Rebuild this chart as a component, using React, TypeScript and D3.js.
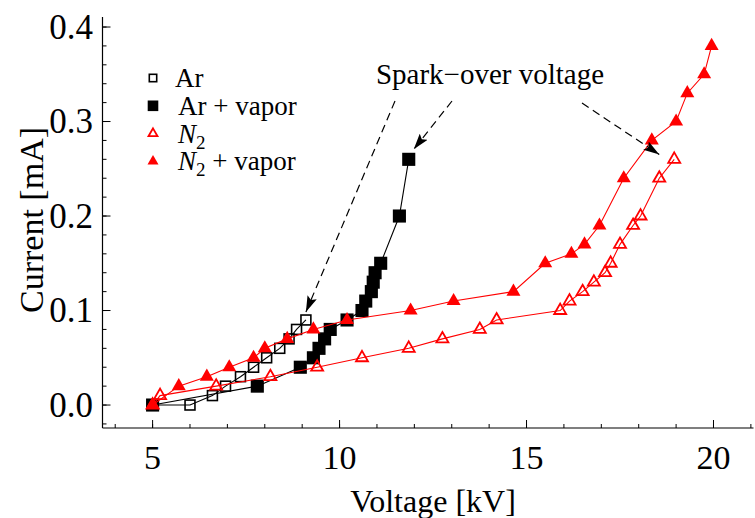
import React from 'react';
import * as d3 from 'd3';

// voltage [kV] / current [mA]
const arV = [5, 6, 6.6, 6.95, 7.35, 7.7, 8.05, 8.4, 8.65, 8.85, 9.1];
const arI = [0, 0, 0.01, 0.02, 0.03, 0.04, 0.05, 0.06, 0.07, 0.08, 0.09];

const arVaporV = [5, 7.8, 8.95, 9.3, 9.45, 9.6, 9.75, 10.2, 10.6, 10.7, 10.85, 10.9, 10.95, 11.1, 11.6, 11.85];
const arVaporI = [0, 0.02, 0.04, 0.05, 0.06, 0.07, 0.08, 0.09, 0.1, 0.11, 0.12, 0.13, 0.14, 0.15, 0.2, 0.26];

const n2V = [5, 5.2, 6.7, 8.15, 9.4, 10.6, 11.85, 12.75, 13.75, 14.2, 15.9, 16.15, 16.5, 16.8, 17.1, 17.25, 17.5, 17.85, 18.05, 18.55, 18.95];
const n2I = [0, 0.01, 0.02, 0.03, 0.04, 0.05, 0.06, 0.07, 0.08, 0.09, 0.1, 0.11, 0.12, 0.13, 0.14, 0.15, 0.17, 0.19, 0.2, 0.24, 0.26];

const n2VaporV = [5, 5.7, 6.45, 7.05, 7.7, 8.0, 8.6, 9.3, 10.2, 11.9, 13.05, 14.65, 15.5, 16.2, 16.55, 16.95, 17.6, 18.35, 19.0, 19.3, 19.75, 19.95];
const n2VaporI = [0, 0.02, 0.03, 0.04, 0.05, 0.06, 0.07, 0.08, 0.09, 0.1, 0.11, 0.12, 0.15, 0.16, 0.17, 0.19, 0.24, 0.28, 0.3, 0.33, 0.35, 0.38];

const xTicks = [5, 10, 15, 20];
const yTicks = [0, 0.1, 0.2, 0.3, 0.4];

// where the three dashed arrows end
const sparkTargets = [
  [9.1, 0.09],
  [11.85, 0.26],
  [18.55, 0.265],
];

const W = 755;
const H = 518;
const FONT = "'Liberation Serif', Tinos, 'Times New Roman', Times, 'DejaVu Serif', serif";

type Series = { name: string; v: number[]; i: number[]; color: string; shape: 'square' | 'triangle'; filled: boolean };

const series: Series[] = [
  { name: 'Ar', v: arV, i: arI, color: '#000', shape: 'square', filled: false },
  { name: 'Ar + vapor', v: arVaporV, i: arVaporI, color: '#000', shape: 'square', filled: true },
  { name: 'N2', v: n2V, i: n2I, color: '#ff0000', shape: 'triangle', filled: false },
  { name: 'N2 + vapor', v: n2VaporV, i: n2VaporI, color: '#ff0000', shape: 'triangle', filled: true },
];

// size = square side / triangle side in px
const Marker = ({ s, x, y, size }: { s: Series; x: number; y: number; size: number }) => {
  if (s.shape === 'square') {
    const a = s.filled ? size : size - 1.6;
    return (
      <rect x={x - a / 2} y={y - a / 2} width={a} height={a}
        fill="none" stroke={s.color} strokeWidth={1.6}
        style={{ fill: s.filled ? s.color : 'none' }} />
    );
  }
  const side = s.filled ? size : size - 2;
  const area = side * side * Math.sqrt(3) / 4;
  const path = d3.symbol().type(d3.symbolTriangle).size(area)();
  return (
    <path d={path || ''} transform={`translate(${x},${y})`}
      fill={s.filled ? s.color : 'none'} stroke={s.color} strokeWidth={s.filled ? 0 : 1.8} />
  );
};

export default function App() {
  const x = d3.scaleLinear().domain([3.66, 21.07]).range([102.5, 753.5]);
  const y = d3.scaleLinear().domain([-0.0243, 0.4106]).range([428, 17]);

  const line = d3.line<[number, number]>();

  const xMinor = d3.range(4, 21.5, 1);
  const yMinor = d3.range(-0.02, 0.41, 0.02);

  const arrowStarts = [
    [395, 101],
    [452, 101],
    [582, 103],
  ];

  return (
    <svg width={W} height={H} style={{ position: 'absolute', left: 0, top: 0, fontFamily: FONT }}>
      <defs>
        <marker id="ah" viewBox="0 0 16 10" refX="16" refY="5" markerWidth="16" markerHeight="10"
          markerUnits="userSpaceOnUse" orient="auto">
          <path d="M0,0 L16,5 L0,10 L3,5 Z" fill="#000" />
        </marker>
      </defs>

      <g style={{ fontFamily: FONT }}>
        {/* axes */}
        <line x1={102.5} x2={102.5} y1={17} y2={428} stroke="#000" strokeWidth={1.2} />
        <line x1={102.5} x2={753.5} y1={428} y2={428} stroke="#000" strokeWidth={1.2} />
        {yMinor.map((v) => (
          <line key={`ym${v}`} x1={102.5} x2={106.5} y1={y(v)} y2={y(v)} stroke="#000" strokeWidth={1} />
        ))}
        {yTicks.map((v) => (
          <g key={`y${v}`}>
            <line x1={102.5} x2={110.5} y1={y(v)} y2={y(v)} stroke="#000" strokeWidth={1} />
            <text x={93} y={y(v) + 11.5} textAnchor="end" fontSize={35}>{v.toFixed(1)}</text>
          </g>
        ))}
        {xMinor.map((v) => (
          <line key={`xm${v}`} x1={x(v)} x2={x(v)} y1={428} y2={424} stroke="#000" strokeWidth={1} />
        ))}
        {xTicks.map((v) => (
          <g key={`x${v}`}>
            <line x1={x(v)} x2={x(v)} y1={428} y2={420} stroke="#000" strokeWidth={1} />
            <text x={x(v)} y={469} textAnchor="middle" fontSize={34}>{v}</text>
          </g>
        ))}
        <text x={433} y={512} textAnchor="middle" fontSize={32}>Voltage [kV]</text>
        <text transform="translate(43,220) rotate(-90)" textAnchor="middle" fontSize={34}>Current [mA]</text>

        {/* series */}
        {series.map((s) => {
          const pts = s.v.map((v, k) => [x(v), y(s.i[k])] as [number, number]);
          return (
            <g key={s.name}>
              <path d={line(pts) || ''} fill="none" stroke={s.color} strokeWidth={1.1} />
              {pts.map((p, k) => <Marker key={k} s={s} x={p[0]} y={p[1]} size={s.shape === 'square' ? 11.5 : 14} />)}
            </g>
          );
        })}

        {/* annotation */}
        <text x={490} y={84} textAnchor="middle" fontSize={29}>Spark−over voltage</text>
        {sparkTargets.map((t, k) => {
          const tx = x(t[0]) + (k === 1 ? 5 : 0);
          const ty = y(t[1]) - (k === 0 ? 8 : k === 1 ? 10 : 0);
          return (
            <line key={k} x1={arrowStarts[k][0]} y1={arrowStarts[k][1]} x2={tx} y2={ty} stroke="#000"
              strokeWidth={1.2} strokeDasharray="8,5" markerEnd="url(#ah)" />
          );
        })}

        {/* legend */}
        {series.map((s, k) => {
          const cy = 78 + k * 27.8;
          const tx = k === 0 ? 175 : 178;
          return (
            <g key={`lg${s.name}`}>
              <Marker s={s} x={153} y={cy} size={s.shape === 'square' ? 9 : 11} />
              {s.name.startsWith('N2') ? (
                <text x={tx} y={cy + 9} fontSize={27}>
                  <tspan fontStyle="italic">N</tspan>
                  <tspan fontSize={19} dy={6}>2</tspan>
                  <tspan dy={-6}>{s.name.slice(2)}</tspan>
                </text>
              ) : (
                <text x={tx} y={cy + 9} fontSize={27}>{s.name}</text>
              )}
            </g>
          );
        })}
      </g>
    </svg>
  );
}
